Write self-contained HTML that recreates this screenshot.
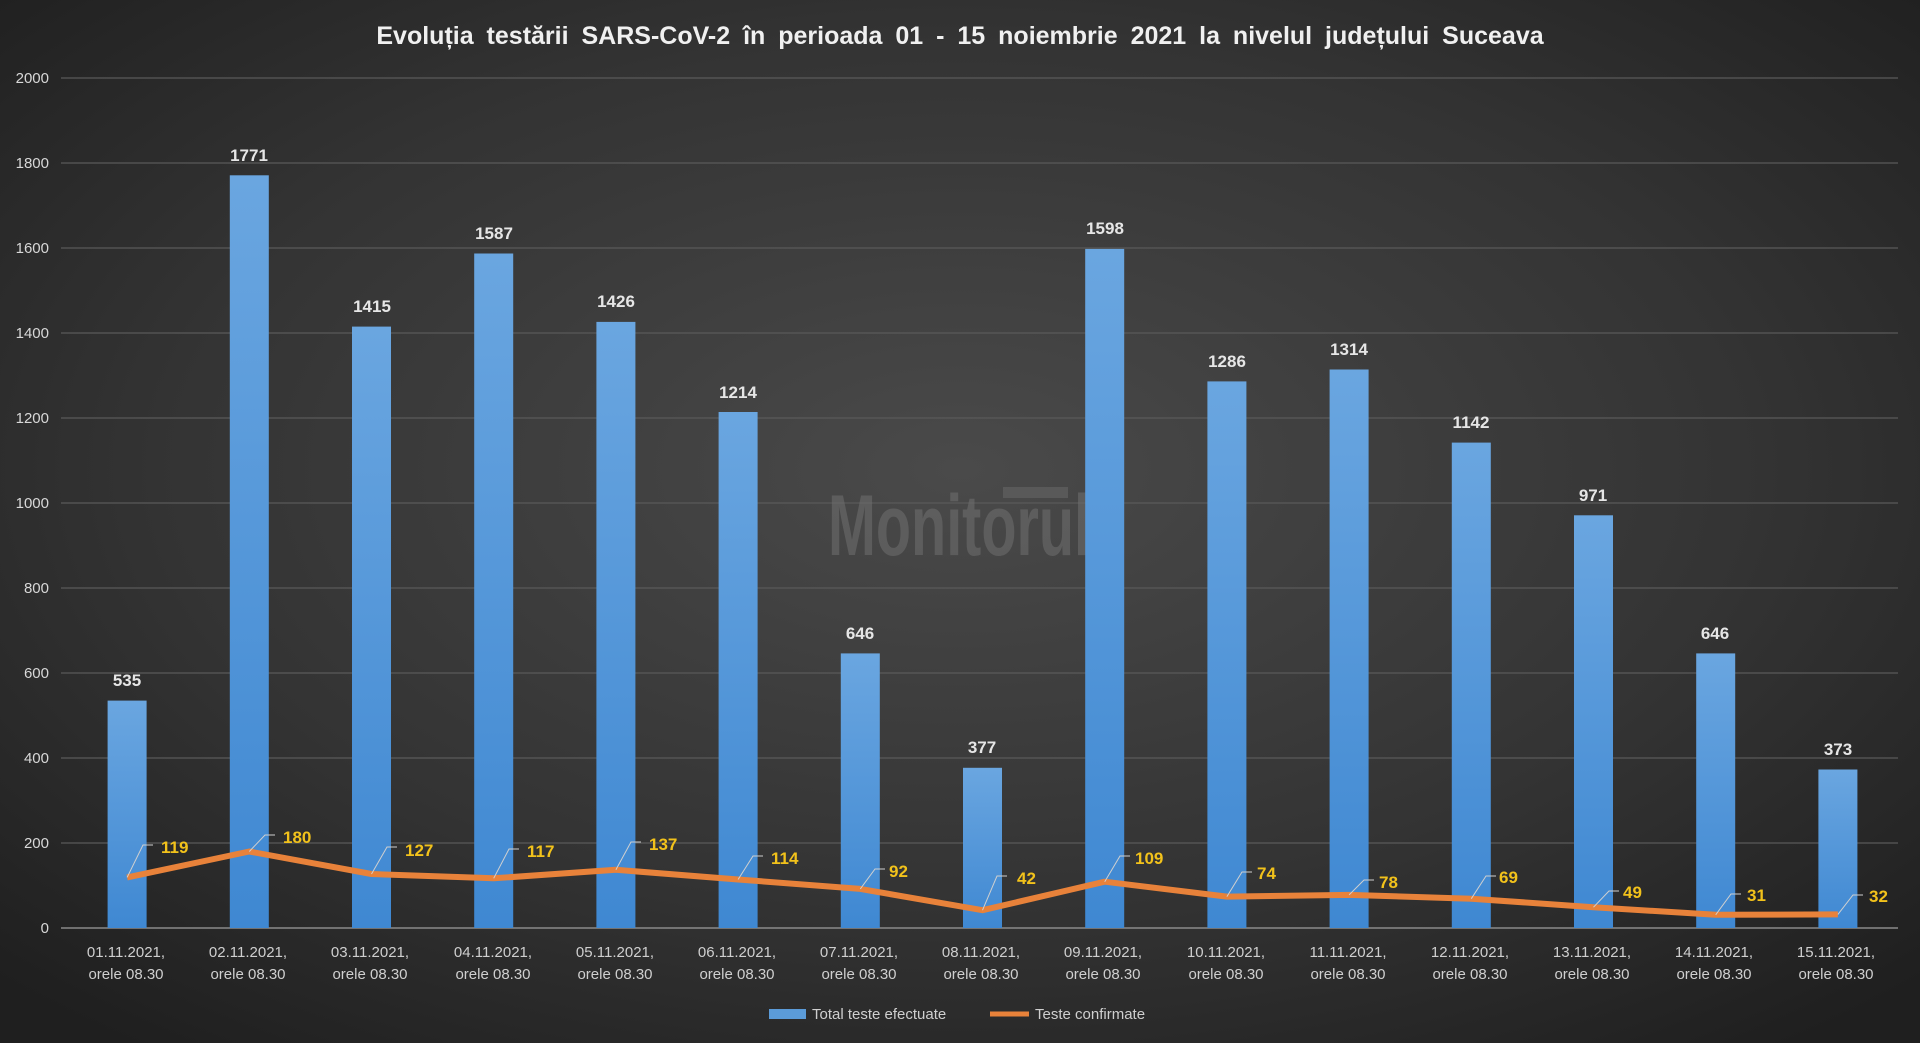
<!DOCTYPE html>
<html><head><meta charset="utf-8"><style>
html,body{margin:0;padding:0;background:#262626;}
svg{display:block;}
text{font-family:"Liberation Sans",Arial,sans-serif;}
</style></head><body>
<svg width="1920" height="1043" viewBox="0 0 1920 1043" xmlns="http://www.w3.org/2000/svg">
<defs>
<radialGradient id="bg" cx="50%" cy="45%" r="70%">
<stop offset="0" stop-color="#4a4a4a"/><stop offset="0.6" stop-color="#333"/><stop offset="1" stop-color="#1f1f1f"/>
</radialGradient>
<linearGradient id="bar" x1="0" y1="0" x2="0" y2="1">
<stop offset="0" stop-color="#6aa6e0"/><stop offset="1" stop-color="#3f88d2"/>
</linearGradient>
</defs>
<rect width="1920" height="1043" fill="url(#bg)"/>
<text x="960" y="44" text-anchor="middle" font-size="25" font-weight="bold" fill="#f0f0f0" word-spacing="6">Evoluția testării SARS-CoV-2 în perioada 01 - 15 noiembrie 2021 la nivelul județului Suceava</text>
<g stroke="#5a5a5a" stroke-width="1.2">
<line x1="61" x2="1898" y1="78" y2="78"/><line x1="61" x2="1898" y1="163" y2="163"/><line x1="61" x2="1898" y1="248" y2="248"/><line x1="61" x2="1898" y1="333" y2="333"/><line x1="61" x2="1898" y1="418" y2="418"/><line x1="61" x2="1898" y1="503" y2="503"/><line x1="61" x2="1898" y1="588" y2="588"/><line x1="61" x2="1898" y1="673" y2="673"/><line x1="61" x2="1898" y1="758" y2="758"/><line x1="61" x2="1898" y1="843" y2="843"/>
</g>
<line x1="61" x2="1898" y1="928" y2="928" stroke="#8a8a8a" stroke-width="1.5"/>
<g font-size="15" fill="#d8d8d8" text-anchor="end">
<text x="49" y="83">2000</text><text x="49" y="168">1800</text><text x="49" y="253">1600</text><text x="49" y="338">1400</text><text x="49" y="423">1200</text><text x="49" y="508">1000</text><text x="49" y="593">800</text><text x="49" y="678">600</text><text x="49" y="763">400</text><text x="49" y="848">200</text><text x="49" y="933">0</text>
</g>
<text x="828" y="555" font-size="86" font-weight="bold" fill="#707070" opacity="0.55" textLength="262" lengthAdjust="spacingAndGlyphs">Monitorul</text>
<rect x="1003" y="487" width="65" height="11" fill="#666" opacity="0.6"/>
<g transform="translate(5,0)">
<g fill="url(#bar)">
<rect x="102.6" y="700.6" width="39" height="227.4"/>
<rect x="224.8" y="175.3" width="39" height="752.7"/>
<rect x="347" y="326.6" width="39" height="601.4"/>
<rect x="469.2" y="253.5" width="39" height="674.5"/>
<rect x="591.4" y="321.9" width="39" height="606.1"/>
<rect x="713.6" y="412" width="39" height="516"/>
<rect x="835.8" y="653.4" width="39" height="274.6"/>
<rect x="958" y="767.8" width="39" height="160.2"/>
<rect x="1080.2" y="248.9" width="39" height="679.1"/>
<rect x="1202.4" y="381.4" width="39" height="546.6"/>
<rect x="1324.6" y="369.5" width="39" height="558.5"/>
<rect x="1446.8" y="442.6" width="39" height="485.4"/>
<rect x="1569" y="515.3" width="39" height="412.7"/>
<rect x="1691.2" y="653.4" width="39" height="274.6"/>
<rect x="1813.4" y="769.5" width="39" height="158.5"/>
</g>
<g font-size="17" font-weight="bold" fill="#e6e6e6" text-anchor="middle">
<text x="122" y="686">535</text><text x="244" y="161">1771</text><text x="367" y="312">1415</text><text x="489" y="239">1587</text><text x="611" y="307">1426</text><text x="733" y="398">1214</text><text x="855" y="639">646</text><text x="977" y="753">377</text><text x="1100" y="234">1598</text><text x="1222" y="367">1286</text><text x="1344" y="355">1314</text><text x="1466" y="428">1142</text><text x="1588" y="501">971</text><text x="1710" y="639">646</text><text x="1833" y="755">373</text>
</g>
<polyline fill="none" stroke="#e8823a" stroke-width="6" stroke-linejoin="round" points="122.1,877.4 244.3,851.5 366.5,874 488.7,878.3 610.9,869.8 733.1,879.5 855.3,888.9 977.5,910.2 1099.7,881.7 1221.9,896.6 1344.1,894.9 1466.3,898.7 1588.5,907.2 1710.7,914.8 1832.9,914.4"/>
<g fill="none" stroke="#d0d0d0" stroke-width="1">
<polyline points="122.1,877.4 138,845 148,845"/>
<polyline points="244.3,851.5 260,835 270,835"/>
<polyline points="366.5,874 382,847 392,847"/>
<polyline points="488.7,878.3 504,849 514,849"/>
<polyline points="610.9,869.8 626,842 636,842"/>
<polyline points="733.1,879.5 748,856 758,856"/>
<polyline points="855.3,888.9 870,869 880,869"/>
<polyline points="977.5,910.2 992,876 1002,876"/>
<polyline points="1099.7,881.7 1115,856 1125,856"/>
<polyline points="1221.9,896.6 1237,872 1247,872"/>
<polyline points="1344.1,894.9 1359,880 1369,880"/>
<polyline points="1466.3,898.7 1481,876 1491,876"/>
<polyline points="1588.5,907.2 1604,891 1614,891"/>
<polyline points="1710.7,914.8 1726,894 1736,894"/>
<polyline points="1832.9,914.4 1848,895 1858,895"/>
</g>
<g font-size="17" font-weight="bold" fill="#f2c21b">
<text x="156" y="853">119</text><text x="278" y="843">180</text><text x="400" y="856">127</text><text x="522" y="857">117</text><text x="644" y="850">137</text><text x="766" y="864">114</text><text x="884" y="877">92</text><text x="1012" y="884">42</text><text x="1130" y="864">109</text><text x="1252" y="879">74</text><text x="1374" y="888">78</text><text x="1494" y="883">69</text><text x="1618" y="898">49</text><text x="1742" y="901">31</text><text x="1864" y="902">32</text>
</g>
</g>
<g font-size="15" fill="#cfcfcf" text-anchor="middle">
<text x="126" y="957">01.11.2021,</text><text x="126" y="979">orele 08.30</text>
<text x="248" y="957">02.11.2021,</text><text x="248" y="979">orele 08.30</text>
<text x="370" y="957">03.11.2021,</text><text x="370" y="979">orele 08.30</text>
<text x="493" y="957">04.11.2021,</text><text x="493" y="979">orele 08.30</text>
<text x="615" y="957">05.11.2021,</text><text x="615" y="979">orele 08.30</text>
<text x="737" y="957">06.11.2021,</text><text x="737" y="979">orele 08.30</text>
<text x="859" y="957">07.11.2021,</text><text x="859" y="979">orele 08.30</text>
<text x="981" y="957">08.11.2021,</text><text x="981" y="979">orele 08.30</text>
<text x="1103" y="957">09.11.2021,</text><text x="1103" y="979">orele 08.30</text>
<text x="1226" y="957">10.11.2021,</text><text x="1226" y="979">orele 08.30</text>
<text x="1348" y="957">11.11.2021,</text><text x="1348" y="979">orele 08.30</text>
<text x="1470" y="957">12.11.2021,</text><text x="1470" y="979">orele 08.30</text>
<text x="1592" y="957">13.11.2021,</text><text x="1592" y="979">orele 08.30</text>
<text x="1714" y="957">14.11.2021,</text><text x="1714" y="979">orele 08.30</text>
<text x="1836" y="957">15.11.2021,</text><text x="1836" y="979">orele 08.30</text>
</g>
<rect x="769" y="1009" width="37" height="10" fill="#5b9bd8"/>
<text x="812" y="1019" font-size="15" fill="#cfcfcf">Total teste efectuate</text>
<line x1="990" x2="1029" y1="1014" y2="1014" stroke="#e8823a" stroke-width="5"/>
<text x="1035" y="1019" font-size="15" fill="#cfcfcf">Teste confirmate</text>
</svg>
</body></html>
